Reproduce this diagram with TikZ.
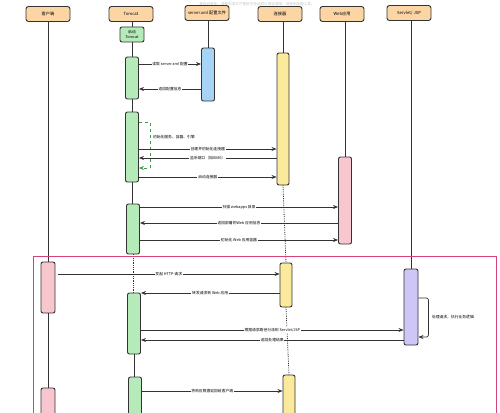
\documentclass[tikz,border=0pt]{standalone}
\usepackage{fontspec}
\setmainfont{Noto Sans CJK SC}
\usetikzlibrary{arrows.meta,positioning}
\definecolor{kopffarbe}{HTML}{FCD5A5}
\definecolor{gruen}{HTML}{B5EBB9}
\definecolor{gruendunkel}{HTML}{3C9A4C}
\definecolor{blau}{HTML}{A7D3F5}
\definecolor{gelb}{HTML}{FBEA9C}
\definecolor{rosa}{HTML}{F8C6CF}
\definecolor{lila}{HTML}{CFC6F8}
\definecolor{rahmen}{HTML}{D6417A}
\definecolor{linie}{HTML}{333333}
\tikzset{
  kopf/.style={draw=linie, line width=0.9pt, fill=kopffarbe, rounded corners=2.5pt,
               minimum width=44pt, minimum height=15pt, inner sep=0pt,
               font=\fontsize{4.2}{5}\selectfont},
  akt/.style={draw=linie, line width=0.9pt, rounded corners=2pt, minimum width=13pt, inner sep=0pt},
  leben/.style={draw=linie, line width=0.8pt},
  msg/.style={draw=linie, line width=0.7pt, -{Stealth[length=5pt,width=4pt]}},
  lab/.style={fill=white, inner sep=0.8pt, font=\fontsize{3.8}{4.5}\selectfont},
}

\begin{document}
\begin{tikzpicture}[x=1pt,y=-1pt]
\useasboundingbox (0,0) rectangle (500,412);
\node[text=gray!45, font=\fontsize{3.6}{4}\selectfont] (hinweis) at (257,4) {重绘后更新：请使用源文件重新生成此图以保证清晰，或使用绘图工具。};

% Kopfzeile
\node[kopf] (cli) at (48,14) {客户端};
\node[kopf] (tom) at (131,14) {Tomcat};
\node[kopf] (xml) at (207,13) {server.xml 配置文件};
\node[kopf] (con) at (280,14) {连接器};
\node[kopf] (web) at (342,14) {Web应用};
\node[kopf] (srv) at (409,13) {Servlet/ JSP};

% Aktivierungen
\node[akt, fill=gruen, minimum width=24pt, minimum height=15pt, align=center,
      font=\fontsize{3.8}{4.6}\selectfont] (start) at (132,34.5) {启动\\Tomcat};
\node[akt, fill=gruen, minimum height=42pt] (tomA) at (132,78) {};
\node[akt, fill=gruen, minimum height=70pt] (tomB) at (132,147) {};
\node[akt, fill=gruen, minimum height=50pt] (tomC) at (133,229) {};
\node[akt, fill=gruen, minimum height=61pt] (tomD) at (134,323.5) {};
\node[akt, fill=gruen, minimum height=45pt] (tomE) at (135,399.5) {};
\node[akt, fill=blau, minimum height=53pt] (xmlA) at (208,74.5) {};
\node[akt, fill=gelb, minimum width=12pt, minimum height=132pt] (conA) at (283,119) {};
\node[akt, fill=gelb, minimum width=12pt, minimum height=44pt] (conB) at (286,285) {};
\node[akt, fill=gelb, minimum width=12pt, minimum height=45pt] (conC) at (289,397.5) {};
\node[akt, fill=rosa, minimum height=87pt] (webA) at (345,200.5) {};
\node[akt, fill=lila, minimum width=14pt, minimum height=76pt] (srvA) at (411,307) {};
\node[akt, fill=rosa, minimum width=14pt, minimum height=51pt] (cliA) at (48,287.5) {};
\node[akt, fill=rosa, minimum width=14pt, minimum height=40pt] (cliB) at (48,408) {};

% Lebenslinien
\draw[leben] (cli) -- (cliA);
\draw[leben] (cliA) -- (cliB);
\draw[leben] (tom.south -| start) -- (start);
\draw[leben] (start) -- (tomA);
\draw[leben] (tomA) -- (tomB);
\draw[leben] (tomB) -- (tomC.north -| tomB);
\draw[leben, densely dotted] (tomC.south) -- (tomC.south |- tomD.north);
\draw[leben] (tomD.south) -- (tomD.south |- tomE.north);
\draw[leben] (xml.south -| xmlA) -- (xmlA);
\draw[leben] (con.south -| conA) -- (conA);
\draw[leben, densely dotted] (conA.south) -- (conB.north);
\draw[leben, densely dotted] (conB.south) -- (conC.north);
\draw[leben] (web.south -| webA) -- (webA);
\draw[leben] (srv.south -| srvA) -- (srvA);

% Start
\draw[msg] (tomA.east |- 0,64) -- node[lab] {读取 server.xml 配置} (xmlA.west |- 0,64);
\draw[msg] (xmlA.west |- 0,89) -- node[lab] {返回配置信息} (tomA.east |- 0,89);
\draw[msg, draw=gruendunkel, dashed] (tomB.east |- 0,122) -- ++(11,0) -- ++(0,46) -- (tomB.east |- 0,168);
\node[lab, fill=none, anchor=west] (initlab) at (152,137) {初始化服务、容器、引擎};
\draw[msg] (tomB.east |- 0,149) -- node[lab] {创建并初始化连接器} (conA.west |- 0,149);
\draw[msg] (conA.west |- 0,158) -- node[lab] {监听端口（如8080）} (tomB.east |- 0,158);
\draw[msg] (tomB.east |- 0,177) -- node[lab] {启动连接器} (conA.west |- 0,177);
\draw[msg] (tomC.east |- 0,207) -- node[lab] {扫描 webapps 目录} (webA.west |- 0,207);
\draw[msg] (webA.west |- 0,223) -- node[lab] {返回部署的Web 应用信息} (tomC.east |- 0,223);
\draw[msg] (tomC.east |- 0,240) -- node[lab] {初始化 Web 应用容器} (webA.west |- 0,240);

% Anfrage
\draw[rahmen, line width=1pt] (33,256) rectangle (496,430);
\draw[msg] (58,274) -- node[lab] {发起 HTTP 请求} (conB.west |- 0,274);
\draw[msg] (conB.west |- 0,293) -- node[lab] {转发请求到 Web 应用} (tomD.east |- 0,293);
\draw[msg] (tomD.east |- 0,330) -- node[lab] {根据请求路径分派到 Servlet/JSP} (srvA.west |- 0,330);
\draw[msg] (srvA.west |- 0,340) -- node[lab] {返回处理结果} (tomD.east |- 0,340);
\draw[msg, rounded corners=2pt] (srvA.east |- 0,298) -- ++(10,0) -- ++(0,39) -- (srvA.east |- 0,337);
\node[lab, fill=none, anchor=west] (bizlab) at (431,317) {处理请求，执行业务逻辑};
\draw[msg] (tomE.east |- 0,391) -- node[lab] {将响应数据返回给客户端} (conC.west |- 0,391);
\end{tikzpicture}
\end{document}
